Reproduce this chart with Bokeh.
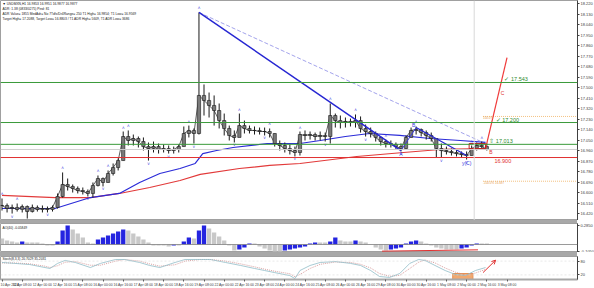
from bokeh.plotting import figure
from bokeh.layouts import column
from bokeh.models import Range1d, FixedTicker, Label, Spacer, Arrow, OpenHead, PrintfTickFormatter, Span
from bokeh.core.properties import value
from bokeh.embed import file_html
from bokeh.resources import INLINE

FONT = "Liberation Sans"

# ---------------- data ----------------
date_labels = ["10 Apr 2024", "11 Apr 08:00", "12 Apr 00:00", "12 Apr 16:00", "15 Apr 08:00",
               "16 Apr 00:00", "16 Apr 16:00", "17 Apr 08:00", "18 Apr 00:00", "18 Apr 16:00",
               "19 Apr 08:00", "22 Apr 00:00", "22 Apr 16:00", "23 Apr 08:00", "24 Apr 00:00",
               "24 Apr 16:00", "25 Apr 08:00", "26 Apr 00:00", "26 Apr 16:00", "29 Apr 08:00",
               "30 Apr 00:00", "30 Apr 16:00", "1 May 08:00", "2 May 00:00", "2 May 16:00",
               "3 May 08:00"]
label_bars = list(range(0, 16 * len(date_labels), 16))

price_ticks = [18.22, 18.13, 18.04, 17.95, 17.86, 17.77, 17.68, 17.59, 17.50, 17.41, 17.32,
               17.23, 17.14, 17.05, 16.96, 16.87, 16.78, 16.69, 16.60, 16.51, 16.42]

high = [16.549, 16.506, 16.497, 16.506, 16.497, 16.489, 16.497, 16.489, 16.489, 16.480,
        16.489, 16.592, 16.772, 16.720, 16.669, 16.652, 16.643, 16.626, 16.686, 16.746,
        16.729, 16.789, 16.849, 16.892, 17.123, 17.132, 17.097, 17.080, 17.072, 17.029,
        17.037, 17.020, 17.012, 17.003, 16.994, 17.012, 17.166, 17.174, 17.149, 18.143,
        17.526, 17.457, 17.432, 17.363, 17.277, 17.174, 17.132, 17.277, 17.217, 17.174,
        17.166, 17.157, 17.157, 17.149, 17.106, 17.046, 17.029, 17.012, 16.994, 17.123,
        17.132, 17.123, 17.114, 17.123, 17.114, 17.363, 17.277, 17.260, 17.243, 17.234,
        17.269, 17.252, 17.183, 17.157, 17.123, 17.080, 17.054, 17.046, 17.029, 17.020,
        17.089, 17.157, 17.166, 17.149, 17.132, 17.114, 17.063, 17.020, 16.994, 16.977,
        16.969, 16.952, 16.952, 17.003, 17.029, 17.037, 17.020]
low = [16.446, 16.429, 16.420, 16.437, 16.429, 16.377, 16.429, 16.437, 16.429, 16.429,
       16.437, 16.463, 16.557, 16.617, 16.600, 16.592, 16.583, 16.566, 16.557, 16.652,
       16.652, 16.686, 16.746, 16.789, 16.874, 17.003, 17.003, 16.986, 16.960, 16.874,
       16.943, 16.934, 16.943, 16.934, 16.934, 16.943, 16.994, 17.072, 17.020, 17.097,
       17.260, 17.243, 17.174, 17.149, 17.089, 17.046, 17.029, 17.089, 17.106, 17.106,
       17.097, 17.097, 17.089, 17.072, 16.994, 16.960, 16.943, 16.926, 16.909, 16.917,
       17.046, 17.054, 17.046, 17.046, 17.037, 17.020, 17.157, 17.149, 17.157, 17.166,
       17.157, 17.114, 17.080, 17.072, 17.037, 17.003, 16.986, 16.986, 16.969, 16.952,
       16.969, 17.072, 17.097, 17.080, 17.054, 17.037, 16.900, 16.900, 16.926, 16.917,
       16.909, 16.900, 16.883, 16.917, 16.960, 16.977, 16.960]
close = [16.489, 16.463, 16.472, 16.455, 16.480, 16.437, 16.472, 16.455, 16.463, 16.455,
         16.472, 16.566, 16.669, 16.652, 16.635, 16.617, 16.609, 16.592, 16.660, 16.720,
         16.686, 16.763, 16.814, 16.874, 17.080, 17.046, 17.063, 17.037, 16.994, 16.977,
         16.994, 16.969, 16.977, 16.960, 16.969, 16.994, 17.106, 17.132, 17.106, 17.432,
         17.389, 17.346, 17.303, 17.217, 17.149, 17.089, 17.072, 17.174, 17.149, 17.132,
         17.132, 17.123, 17.123, 17.106, 17.020, 17.003, 16.977, 16.960, 16.943, 17.097,
         17.089, 17.097, 17.080, 17.089, 17.080, 17.260, 17.217, 17.200, 17.209, 17.200,
         17.217, 17.149, 17.123, 17.106, 17.072, 17.037, 17.020, 17.012, 16.994, 16.977,
         17.072, 17.132, 17.140, 17.114, 17.089, 17.063, 16.977, 16.960, 16.952, 16.943,
         16.934, 16.926, 16.917, 16.977, 17.003, 16.994, 16.969]
bars = list(range(0, 4 * len(close), 4))
opens = [close[0]] + close[:-1]

ma_blue_bar = [0, 42, 70, 93, 109, 125, 141, 153, 159, 170, 183, 210, 236, 252, 272, 291, 315, 339, 363, 383]
ma_blue = [16.463, 16.463, 16.557, 16.592, 16.686, 16.763, 16.806, 16.849, 16.934, 16.960,
           16.986, 17.020, 17.020, 17.046, 17.080, 17.106, 17.089, 17.063, 17.046, 17.029]
ma_red_bar = [0, 42, 70, 93, 117, 141, 157, 188, 212, 236, 281, 318, 347, 383]
ma_red = [16.575, 16.557, 16.557, 16.592, 16.643, 16.703, 16.755, 16.806, 16.832, 16.849,
          16.909, 16.943, 16.969, 16.977]

levels_green = [17.543, 17.200, 17.013]
level_red = 16.900
fib_levels = [17.252, 16.697]
fib_names = ["100.0%", "-100.0%  16.697"]

wave_bar = [156, 316, 328, 368]
wave_price = [18.143, 16.960, 17.157, 16.917]
dash_bar = [156, 381]
dash_price = [18.143, 17.029]
proj_bar = [383, 400]
proj_price = [16.977, 17.757]
box_bar = [370, 383]
box_price = [16.977, 17.020]
session_bar = 374

frac_up = [0, 3, 12, 19, 21, 24, 25, 37, 39, 47, 53, 59, 65, 70, 76, 82, 93, 95]
frac_dn = [2, 9, 17, 20, 29, 33, 38, 46, 52, 58, 64, 72, 79, 87, 92]

ao = [0.090, 0.060, 0.045, 0.030, 0.045, 0.030, 0.030, 0.030, 0.015, -0.015,
      -0.015, 0.045, 0.210, 0.285, 0.225, 0.165, 0.105, 0.030, 0.015, 0.075,
      0.105, 0.135, 0.165, 0.195, 0.225, 0.210, 0.165, 0.120, 0.075, 0.030,
      -0.015, -0.015, -0.015, -0.030, -0.015, -0.015, 0.045, 0.105, 0.090, 0.210,
      0.285, 0.240, 0.180, 0.120, 0.060, -0.015, -0.090, -0.075, -0.045, 0.015,
      0.015, -0.030, -0.060, -0.090, -0.105, -0.105, -0.090, -0.075, -0.060, -0.045,
      -0.030, 0.015, 0.030, 0.030, 0.030, 0.045, 0.105, 0.060, 0.045, 0.045,
      0.060, 0.045, 0.030, 0.005, -0.045, -0.075, -0.090, -0.075, -0.060, -0.045,
      0.015, 0.045, 0.060, 0.045, 0.015, -0.015, -0.045, -0.060, -0.075, -0.075,
      -0.075, -0.060, -0.045, -0.015, 0.015, 0.015, 0.015]
ao_div_bar = [301, 377]
ao_div = [-0.100, -0.080]

stoch_bar = [0, 10, 22, 34, 38, 44, 50, 58, 70, 78, 90, 97, 109, 117, 125, 137, 145, 157, 165, 177,
             189, 200, 208, 216, 228, 232, 236, 244, 252, 264, 276, 284, 292, 299, 307, 315, 323, 330,
             335, 343, 351, 359, 367, 375, 383]
stoch_k = [74, 70, 65, 52, 48, 70, 83, 74, 52, 70, 87, 87, 74, 61, 52, 74, 87, 87, 87, 74,
           61, 48, 39, 30, 17, 4, 39, 61, 74, 78, 70, 61, 39, 13, 9, 26, 70, 87, 83, 61,
           39, 22, 17, 39, 52]
stoch_d = [72, 72, 68, 58, 52, 60, 75, 78, 62, 62, 80, 87, 80, 68, 58, 64, 80, 87, 87, 80,
           68, 55, 45, 36, 25, 12, 22, 48, 66, 76, 74, 66, 50, 26, 14, 18, 48, 75, 85, 72,
           50, 32, 20, 28, 44]
stoch_zone_bar = [357, 373]
stoch_zone = [0, 26]
stoch_arrow = [381, 30, 391, 84]
stoch_levels = [80, 20]

header = ["\u25bc USDMXN,H1  16.9853 16.9951 16.9877 16.9877",
          "ADR: 1.38 (0833/0275)  Pind: 81",
          "ADR Value= 1855  MedAdr= No  7Tdfx/Dr4Range= 250  T1 High= 16.9854;  T1 Low= 16.9569",
          "Target High= 17.2088,  Target Low= 16.8803 / T1 ADR High= 5609,  T1 ADR Low= 3686"]

# ---------------- geometry ----------------
PPB = 1.2625
W = 577
X0 = -1.2
X1 = X0 + W / PPB
MAIN_H = 220
Y_TOP = 18.2457
Y_PX = 0.00857


def py(px):
    return Y_TOP - Y_PX * px


xr = Range1d(X0, X1)


def base_fig(h, yr, xloc=None):
    f = figure(frame_width=W, frame_height=h, x_range=xr, y_range=yr, output_backend="svg",
               toolbar_location=None, y_axis_location="right", x_axis_location=xloc,
               min_border=0, min_border_left=0, min_border_right=0, min_border_top=0,
               min_border_bottom=0)
    f.grid.visible = False
    f.outline_line_color = "#a0a0a0"
    f.background_fill_color = "white"
    f.border_fill_color = "white"
    ya = f.yaxis[0]
    ya.major_label_text_font = FONT
    ya.major_label_text_font_size = "4px"
    ya.major_label_text_color = "#404040"
    ya.major_tick_out = 2
    ya.major_tick_in = 0
    ya.minor_tick_out = 0
    ya.minor_tick_in = 0
    ya.major_label_standoff = 1
    ya.axis_line_color = "#404040"
    ya.major_tick_line_color = "#404040"
    return f


def axis_box(f, yv, txt, col):
    f.add_layout(Label(x=X1, y=yv, x_offset=1, text=txt, text_font=FONT, text_font_size="4px",
                       text_color="white", background_fill_color=col, text_baseline="middle",
                       text_align="left"))


# ---------------- main panel ----------------
p = base_fig(MAIN_H, Range1d(py(MAIN_H), py(0)))
p.yaxis.ticker = FixedTicker(ticks=price_ticks)
p.yaxis.formatter = PrintfTickFormatter(format="%.3f")

p.add_layout(Span(location=close[-1], dimension="width", line_color="#cfcfcf", line_width=1))
for lv in levels_green:
    p.add_layout(Span(location=lv, dimension="width", line_color="#3a9a3a", line_width=1))
p.add_layout(Span(location=level_red, dimension="width", line_color="#e03030", line_width=1))
p.add_layout(Span(location=session_bar, dimension="height", line_color="#d8d8d8", line_width=1))
for lv in fib_levels:
    p.segment(x0=dash_bar[1], y0=lv, x1=X1, y1=lv, line_color="#f0b060", line_width=0.8,
              line_dash="1 1")

p.line(ma_red_bar, ma_red, line_color="#e23a3a", line_width=1.2)
p.line(ma_blue_bar, ma_blue, line_color="#2b2bd8", line_width=1.2)
p.line(dash_bar, dash_price, line_color="#8c8ce6", line_width=0.8, line_dash="4 2")

p.line(bars, close, line_color="#303030", line_width=0.8)
p.segment(x0=bars, y0=low, x1=bars, y1=high, line_color="#1a1a1a", line_width=1)
p.vbar(x=bars, bottom=opens, top=close, width=2.6, fill_color="#7a7a7a",
       line_color="#1a1a1a", line_width=0.6)

p.line(wave_bar[:2], wave_price[:2], line_color="#2626d2", line_width=1.5)
p.line(wave_bar[1:3], wave_price[1:3], line_color="#3a3ae0", line_width=1)
p.line(wave_bar[2:], wave_price[2:], line_color="#2626d2", line_width=1.3)

p.line(proj_bar, proj_price, line_color="#f03a3a", line_width=1.2)
p.quad(left=box_bar[0], right=box_bar[1], bottom=box_price[0], top=box_price[1],
       fill_color=None, line_color="#c02020", line_width=1)

fu_x = [bars[i] for i in frac_up]
fu_y = [high[i] for i in frac_up]
fd_x = [bars[i] for i in frac_dn]
fd_y = [low[i] for i in frac_dn]
p.text(x=fu_x, y=fu_y, text=["\u02c4"] * len(fu_x), text_font=value(FONT), text_font_size="4.5px",
       text_color="#4040e0", text_align="center", text_baseline="bottom", y_offset=-1)
p.text(x=fd_x, y=fd_y, text=["\u02c5"] * len(fd_x), text_font=value(FONT), text_font_size="4.5px",
       text_color="#4040e0", text_align="center", text_baseline="top", y_offset=1)

last = bars[-1]
tgt_x = [last + 14, last + 7, last + 2]
marks = ["\u2713 ", "\u2713 ", "\u21e7 "]
for lv, tx, mk in zip(levels_green, tgt_x, marks):
    p.add_layout(Label(x=tx, y=lv, text=f"{mk}{lv:.3f}", text_font=FONT, text_font_size="5.5px",
                       text_color="#2e8b2e", text_baseline="bottom", text_align="left"))
p.add_layout(Label(x=last + 6, y=level_red, text=f"{level_red:.3f}", text_font=FONT,
                   text_font_size="5.5px", text_color="#e03030", text_baseline="top",
                   text_align="left", y_offset=-1))
for lv, nm in zip(fib_levels, fib_names):
    p.add_layout(Label(x=dash_bar[1], y=lv, text=nm, text_font=FONT, text_font_size="3px",
                       text_color="#e8a050", text_baseline="top", text_align="left"))

p.add_layout(Label(x=proj_bar[1] - 5, y=(proj_price[0] + proj_price[1]) / 2 + 0.09, text="C",
                   text_font=FONT, text_font_size="5px", text_color="#e03030",
                   text_baseline="middle", text_align="left"))
p.add_layout(Label(x=proj_bar[0] + 3, y=proj_price[0], text="B", text_font=FONT,
                   text_font_size="5px", text_color="#e03030", text_baseline="top",
                   text_align="left"))
p.add_layout(Label(x=wave_bar[1], y=wave_price[1], text="A", text_font=FONT,
                   text_font_size="5px", text_color="#3a3ae0", text_baseline="top",
                   text_align="center"))
p.add_layout(Label(x=wave_bar[2] - 2, y=wave_price[2], text="B", text_font=FONT,
                   text_font_size="5px", text_color="#3a3ae0", text_baseline="bottom",
                   text_align="center"))
p.add_layout(Label(x=wave_bar[3], y=wave_price[3] - 0.04, text="y(C)", text_font=FONT,
                   text_font_size="5px", text_color="#3a3ae0", text_baseline="top",
                   text_align="center"))

for i, line in enumerate(header):
    p.add_layout(Label(x=X0, y=py(1.5 + 5 * i), x_offset=2, text=line, text_font=FONT,
                       text_font_size="3.3px", text_color="#202020", text_baseline="top",
                       text_align="left"))

axis_box(p, levels_green[0], f"{levels_green[0]:.3f}", "#2e8b2e")
axis_box(p, levels_green[1], f"{levels_green[1]:.3f}", "#2e8b2e")
axis_box(p, levels_green[2], f"{levels_green[2]:.3f}", "#2e8b2e")
axis_box(p, close[-1], f"{close[-1]:.3f}", "#101010")
axis_box(p, level_red, f"{level_red:.3f}", "#e03030")

# ---------------- AO panel ----------------
AO_TOP = 0.315
a = base_fig(29, Range1d(-0.12, AO_TOP))
a.yaxis.ticker = FixedTicker(ticks=[max(ao), min(ao)])
a.yaxis.formatter = PrintfTickFormatter(format="%.4f")
ao_cols = ["#2424e0" if (i > 0 and ao[i] > ao[i - 1]) else "#c8c8c8" for i in range(len(ao))]
a.add_layout(Span(location=0, dimension="width", line_color="#808080", line_width=0.8))
a.vbar(x=bars, top=ao, bottom=0, width=3.4, fill_color=ao_cols, line_color=None)
a.line(ao_div_bar, ao_div, line_color="#e03030", line_width=1)
a.add_layout(Label(x=X0, y=AO_TOP - 0.03, x_offset=2, text="AO(40)  -0.05849", text_font=FONT,
                   text_font_size="3.3px", text_color="#202020", text_baseline="top",
                   text_align="left"))
axis_box(a, 0, f"{ao[-1]:.4f}", "#101010")

# ---------------- Stochastic panel ----------------
s = base_fig(23, Range1d(0, 100), xloc="below")
s.yaxis.ticker = FixedTicker(ticks=stoch_levels)
for lv in stoch_levels:
    s.add_layout(Span(location=lv, dimension="width", line_color="#d8d8d8", line_width=0.6,
                      line_dash="2 2"))
s.quad(left=stoch_zone_bar[0], right=stoch_zone_bar[1], bottom=stoch_zone[0], top=stoch_zone[1],
       fill_color="#f0a060", line_color="#e89050", fill_alpha=0.9)
s.line(stoch_bar, stoch_d, line_color="#d08c8c", line_width=0.8, line_dash="1 1")
s.line(stoch_bar, stoch_k, line_color="#90bcc8", line_width=0.8)
s.add_layout(Arrow(end=OpenHead(size=4, line_color="#e03030", line_width=1),
                   x_start=stoch_arrow[0], y_start=stoch_arrow[1],
                   x_end=stoch_arrow[2], y_end=stoch_arrow[3],
                   line_color="#e03030", line_width=1))
s.add_layout(Label(x=X0, y=96, x_offset=2, text="Stoch(8,3,3)  20.7029  35.2031", text_font=FONT,
                   text_font_size="3.3px", text_color="#202020", text_baseline="top",
                   text_align="left"))
xa = s.xaxis[0]
xa.ticker = FixedTicker(ticks=label_bars)
xa.major_label_overrides = {b: t for b, t in zip(label_bars, date_labels)}
xa.major_label_text_font = FONT
xa.major_label_text_font_size = "3.4px"
xa.major_label_text_color = "#404040"
xa.major_label_text_align = "left"
xa.major_label_standoff = 1
xa.major_tick_out = 2
xa.major_tick_in = 0
xa.minor_tick_out = 0
xa.minor_tick_in = 0
xa.axis_line_color = "#a8a8a8"
xa.axis_line_width = 2
xa.major_tick_line_color = "#606060"

sep_style = {"background-color": "#a8a8a8"}
layout = column(p, Spacer(width=W, height=3, styles=sep_style), a,
                Spacer(width=W, height=4, styles=sep_style), s, spacing=0)

open("out.html", "w").write(file_html(layout, INLINE))
